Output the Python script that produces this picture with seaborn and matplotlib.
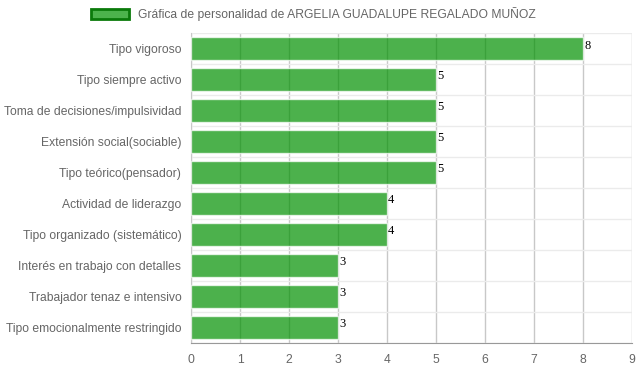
import numpy as np
import pandas as pd
import matplotlib
matplotlib.use("Agg")
import matplotlib.pyplot as plt
import seaborn as sns
from matplotlib.patches import Patch

categorias = [
    "Tipo vigoroso",
    "Tipo siempre activo",
    "Toma de decisiones/impulsividad",
    "Extensión social(sociable)",
    "Tipo teórico(pensador)",
    "Actividad de liderazgo",
    "Tipo organizado (sistemático)",
    "Interés en trabajo con detalles",
    "Trabajador tenaz e intensivo",
    "Tipo emocionalmente restringido",
]
valores = [8, 5, 5, 5, 5, 4, 4, 3, 3, 3]
titulo = "Gráfica de personalidad de ARGELIA GUADALUPE REGALADO MUÑOZ"

df = pd.DataFrame({"categoria": categorias, "valor": valores})

sns.set_style("white")
plt.rcParams["font.family"] = ["Liberation Sans", "DejaVu Sans"]

fig = plt.figure(figsize=(6.39, 3.72), dpi=100)
ax = fig.add_axes([0.2989, 0.078, 0.6902, 0.833])

sns.barplot(data=df, x="valor", y="categoria", orient="h", color="#009100",
            alpha=0.7, width=0.72, saturation=1, ax=ax, zorder=3)

ax.set_xlim(0, 9)
ax.set_ylim(len(categorias) - 0.5, -0.5)
ax.set_xticks(range(10))
ax.set_yticks(range(len(categorias)))
ax.set_yticks(np.arange(-0.5, len(categorias), 1), minor=True)
ax.set_xlabel("")
ax.set_ylabel("")

ax.grid(axis="x", which="major", color="#c8c8c8", linewidth=1, zorder=0)
ax.grid(axis="y", which="minor", color="#ebebeb", linewidth=1, zorder=0)
ax.set_axisbelow(True)

ax.tick_params(axis="x", which="major", length=6, color="#c8c8c8", labelsize=8.7,
               labelcolor="#666666", pad=2)
ax.tick_params(axis="y", which="major", length=0, labelsize=8.7, labelcolor="#666666", pad=7)
ax.tick_params(axis="y", which="minor", length=6, color="#ebebeb")

for s in ["top", "right"]:
    ax.spines[s].set_visible(False)
ax.spines["left"].set_color("#c8c8c8")
ax.spines["bottom"].set_color("#999999")

for i, v in enumerate(valores):
    ax.text(v + 0.02, i - 0.1, str(v), fontsize=9, family="Liberation Serif",
            color="black", va="center", ha="left")

handle = Patch(facecolor="#4cb34c", edgecolor="#0a7a0a", linewidth=2)
fig.legend(handles=[handle], labels=[titulo], loc="upper center",
           bbox_to_anchor=(0.49, 1.01), frameon=False, fontsize=8.7,
           labelcolor="#666666", handlelength=3.2, handleheight=0.9,
           handletextpad=0.7)

fig.savefig("out.png", dpi=100)
